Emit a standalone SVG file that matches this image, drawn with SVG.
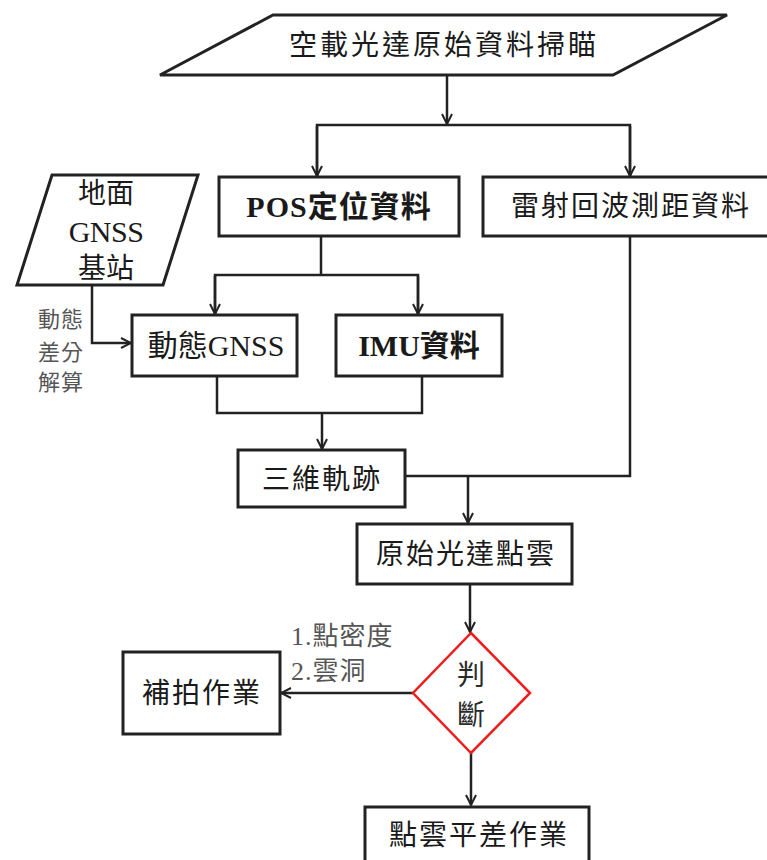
<svg xmlns="http://www.w3.org/2000/svg" width="767" height="860" viewBox="0 0 767 860">
<style>
.box{fill:#fff;stroke:#222;stroke-width:3}
.dia{fill:#fff;stroke:#ee1c1c;stroke-width:2.5}
.t{font-family:"Noto Sans CJK TC","Liberation Sans",sans-serif;font-size:28px;fill:#1a1a1a;text-anchor:middle;letter-spacing:2px}
.s{font-family:"Liberation Serif","Noto Sans CJK TC",serif;font-size:30px}
.b{font-weight:bold}
.g{font-family:"Noto Sans CJK TC","Liberation Sans",sans-serif;fill:#555}
.j{font-family:"Noto Sans CJK TC","Liberation Sans",sans-serif;fill:#2a2a2a;font-size:28px;text-anchor:middle}
.c{fill:none;stroke:#222;stroke-width:2.5}
</style>
<defs>
<marker id="ah" viewBox="0 0 12 12" refX="11" refY="6" markerWidth="12" markerHeight="12" markerUnits="userSpaceOnUse" orient="auto">
<path d="M1,1 L11,6 L1,11" fill="none" stroke="#222" stroke-width="2"/>
</marker>
</defs>
<g id="connectors">
<path class="c" d="M447,75 V124" marker-end="url(#ah)"/>
<path class="c" d="M317,177 V125 H630 V177"/>
<path class="c" d="M317,126 V176" marker-end="url(#ah)"/>
<path class="c" d="M630,126 V176" marker-end="url(#ah)"/>
<path class="c" d="M321,236 V275"/>
<path class="c" d="M215,314 V275 H418 V314"/>
<path class="c" d="M215,276 V314" marker-end="url(#ah)"/>
<path class="c" d="M418,276 V314" marker-end="url(#ah)"/>
<path class="c" d="M92,285 V343 H131" marker-end="url(#ah)"/>
<path class="c" d="M217,376 V413 H422 V376"/>
<path class="c" d="M322,413 V449" marker-end="url(#ah)"/>
<path class="c" d="M630,236 V476 H405"/>
<path class="c" d="M468,476 V523" marker-end="url(#ah)"/>
<path class="c" d="M470,584 V632" marker-end="url(#ah)"/>
<path class="c" d="M413,693 H281" marker-end="url(#ah)"/>
<path class="c" d="M471,753 V805" marker-end="url(#ah)"/>
</g>
<g id="scan">
<polygon class="box" points="273,15 727,15 613,75 160,75"/>
<text class="t" x="444" y="55" style="letter-spacing:3px">空載光達原始資料掃瞄</text>
</g>
<g id="pos">
<rect class="box" x="219" y="177" width="240" height="59"/>
<text class="t s b" x="339" y="217" style="letter-spacing:1px">POS定位資料</text>
</g>
<g id="laser">
<rect class="box" x="483" y="177" width="290" height="59"/>
<text class="t" x="631" y="216">雷射回波測距資料</text>
</g>
<g id="ground">
<polygon class="box" points="52,175 198,175 163,285 17,285"/>
<text class="t" x="106" y="203" style="letter-spacing:0">地面</text>
<text class="t s" x="106" y="242" style="letter-spacing:-0.5px">GNSS</text>
<text class="t" x="106" y="278" style="letter-spacing:0">基站</text>
</g>
<g id="diff-label">
<text class="g" x="61" y="327" font-size="22" text-anchor="middle" letter-spacing="1">動態</text>
<text class="g" x="61" y="360" font-size="22" text-anchor="middle" letter-spacing="1">差分</text>
<text class="g" x="61" y="390" font-size="22" text-anchor="middle" letter-spacing="1">解算</text>
</g>
<g id="gnss">
<rect class="box" x="132" y="315" width="165" height="61"/>
<text class="t s" x="216" y="356" style="letter-spacing:0">動態GNSS</text>
</g>
<g id="imu">
<rect class="box" x="336" y="315" width="166" height="61"/>
<text class="t s b" x="419" y="356" style="letter-spacing:0">IMU資料</text>
</g>
<g id="traj">
<rect class="box" x="238" y="450" width="167" height="57"/>
<text class="t" x="322" y="489">三維軌跡</text>
</g>
<g id="raw">
<rect class="box" x="357" y="524" width="215" height="60"/>
<text class="t" x="466" y="564">原始光達點雲</text>
</g>
<g id="judge">
<polygon class="dia" points="471,633 530,693 471,753 413,693"/>
<text class="j" x="471" y="685">判</text>
<text class="j" x="471" y="725">斷</text>
</g>
<g id="cond-label">
<text class="g" x="291" y="645" font-size="26" letter-spacing="1"><tspan font-family="Liberation Serif">1.</tspan>點密度</text>
<text class="g" x="291" y="680" font-size="26" letter-spacing="1"><tspan font-family="Liberation Serif">2.</tspan>雲洞</text>
</g>
<g id="reshoot">
<rect class="box" x="123" y="652" width="157" height="82"/>
<text class="t" x="202" y="703">補拍作業</text>
</g>
<g id="adjust">
<rect class="box" x="365" y="807" width="224" height="70"/>
<text class="t" x="479" y="845">點雲平差作業</text>
</g>
</svg>
